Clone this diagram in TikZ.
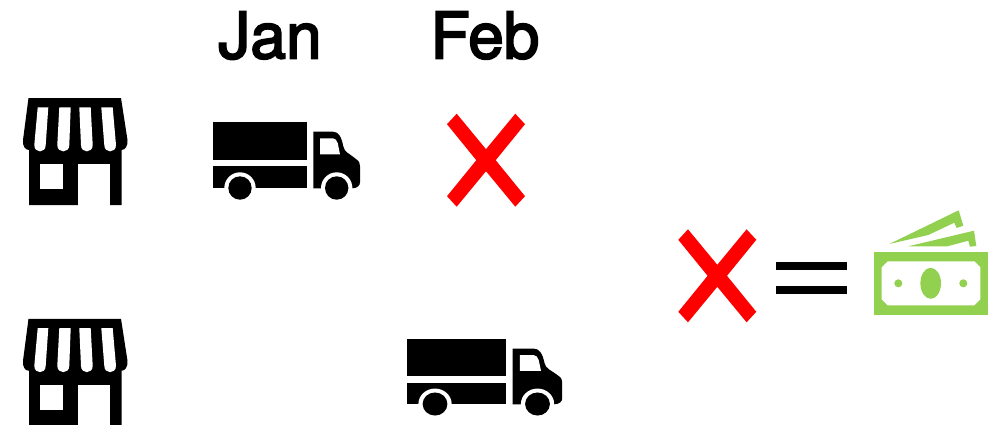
\documentclass[tikz,border=0pt]{standalone}
\usepackage{fontspec}
\setmainfont[FakeBold=3]{TeX Gyre Heros}
\definecolor{billgreen}{RGB}{146,208,80}
\tikzset{
shop/.pic={
    \fill[black] (0,0) -- (92.5,0) -- (99,42) .. controls (99.5,48) and (96.5,52) .. (93,52)
        -- (93,107) -- (0.5,107) -- (0.5,52) .. controls (-3.5,52) and (-6,48) .. (-5.5,42) -- cycle;
    \fill[white] (9.2,9.3) -- (19.8,9.3) -- (17.2,47) .. controls (17.2,55.5) and (5.8,55.5) .. (5.8,47) -- cycle;
    \fill[white] (30.8,9.3) -- (42.2,9.3) -- (40.8,47) .. controls (40.8,55.5) and (28.8,55.5) .. (28.8,47) -- cycle;
    \fill[white] (50.8,9.3) -- (62.2,9.3) -- (64.2,47) .. controls (64.2,55.5) and (52.5,55.5) .. (52.5,47) -- cycle;
    \fill[white] (72.8,9.3) -- (84.2,9.3) -- (87.5,47) .. controls (87.5,55.5) and (75.8,55.5) .. (75.8,47) -- cycle;
    \fill[white] (11.8,66) rectangle (34.8,91.3);
    \fill[white] (49.8,66) rectangle (81.5,108);
},
truck/.pic={
    \fill[black] (0,0) rectangle (93.7,37.7);
    \fill[black] (0,44) rectangle (93.7,66);
    \fill[black] (100,9.4) -- (119.7,9.4) .. controls (125,9.4) and (128,14) .. (130,24)
        .. controls (131,30) and (136,31) .. (143,37) .. controls (146,39) and (146.7,41) .. (146.7,44)
        -- (146.7,60) .. controls (146.7,63) and (144,66) .. (139,66) -- (100,66) -- cycle;
    \fill[white] (106.7,16) -- (119.7,16) .. controls (122,16) and (123.5,18) .. (124.5,21)
        -- (126.7,32) -- (106.7,32) -- cycle;
    \fill[white] (26.7,65.7) circle [radius=15.7];
    \fill[white] (123.4,65.7) circle [radius=15.7];
    \fill[black] (26.7,65.7) circle [radius=11.7];
    \fill[black] (123.4,65.7) circle [radius=11.7];
},
crossmark/.pic={
    \fill[red] (-29.3,-46.5) -- (0,-11) -- (29.3,-46.5) -- (39,-36) -- (9.7,0) -- (39,36)
        -- (29.3,46.5) -- (0,11) -- (-29.3,46.5) -- (-39,36) -- (-9.7,0) -- (-39,-36) -- cycle;
},
money/.pic={
    \fill[billgreen] (15.3,-8) -- (84.7,-41.7) -- (89.3,-26.3) -- (82.7,-24) -- (80.3,-29.3) -- (54.3,-17) -- cycle;
    \fill[billgreen] (34.3,-5.7) -- (100,-21.3) -- (102.3,-6) -- (96,-5.3) -- (94.3,-11.3) -- (73.3,-5.7) -- cycle;
    \fill[billgreen] (0,0) rectangle (114,62.7);
    \fill[white] (13.7,9.3) -- (100.3,9.3) -- (106.3,15.3) -- (106.3,47.3) -- (100.3,53.3)
        -- (13.7,53.3) -- (7.7,47.3) -- (7.7,15.3) -- cycle;
    \fill[billgreen] (56.7,31.3) ellipse [x radius=10.3, y radius=15.5];
    \fill[billgreen] (24.3,31.3) circle [radius=4];
    \fill[billgreen] (89.3,31.3) circle [radius=4];
}
}
\begin{document}
\begin{tikzpicture}[
x=1pt,
y=-1pt,
every node/.style={
    inner sep=0pt,
    anchor=base,
    font=\fontsize{64}{64}\selectfont
}
]
\clip (0,0) rectangle (997,424);

%---------------- Months ----------------
\node (jan) at (270,58.3) {Jan};
\node (feb) at (485,58.3) {Feb};

%---------------- Upper row ----------------
\pic at (28.5,98) {shop};
\pic at (213.3,122.3) {truck};
\pic at (486,160.2) {crossmark};

%---------------- Lower row ----------------
\pic at (28.5,318.8) {shop};
\pic[xscale=1.06,yscale=0.985] at (406.7,339.3) {truck};

%---------------- Result ----------------
\pic at (717.3,275.8) {crossmark};
\fill[black] (776,262) rectangle (847,269.7);
\fill[black] (776,286) rectangle (847,293.7);
\pic at (874,252) {money};

\end{tikzpicture}
\end{document}
